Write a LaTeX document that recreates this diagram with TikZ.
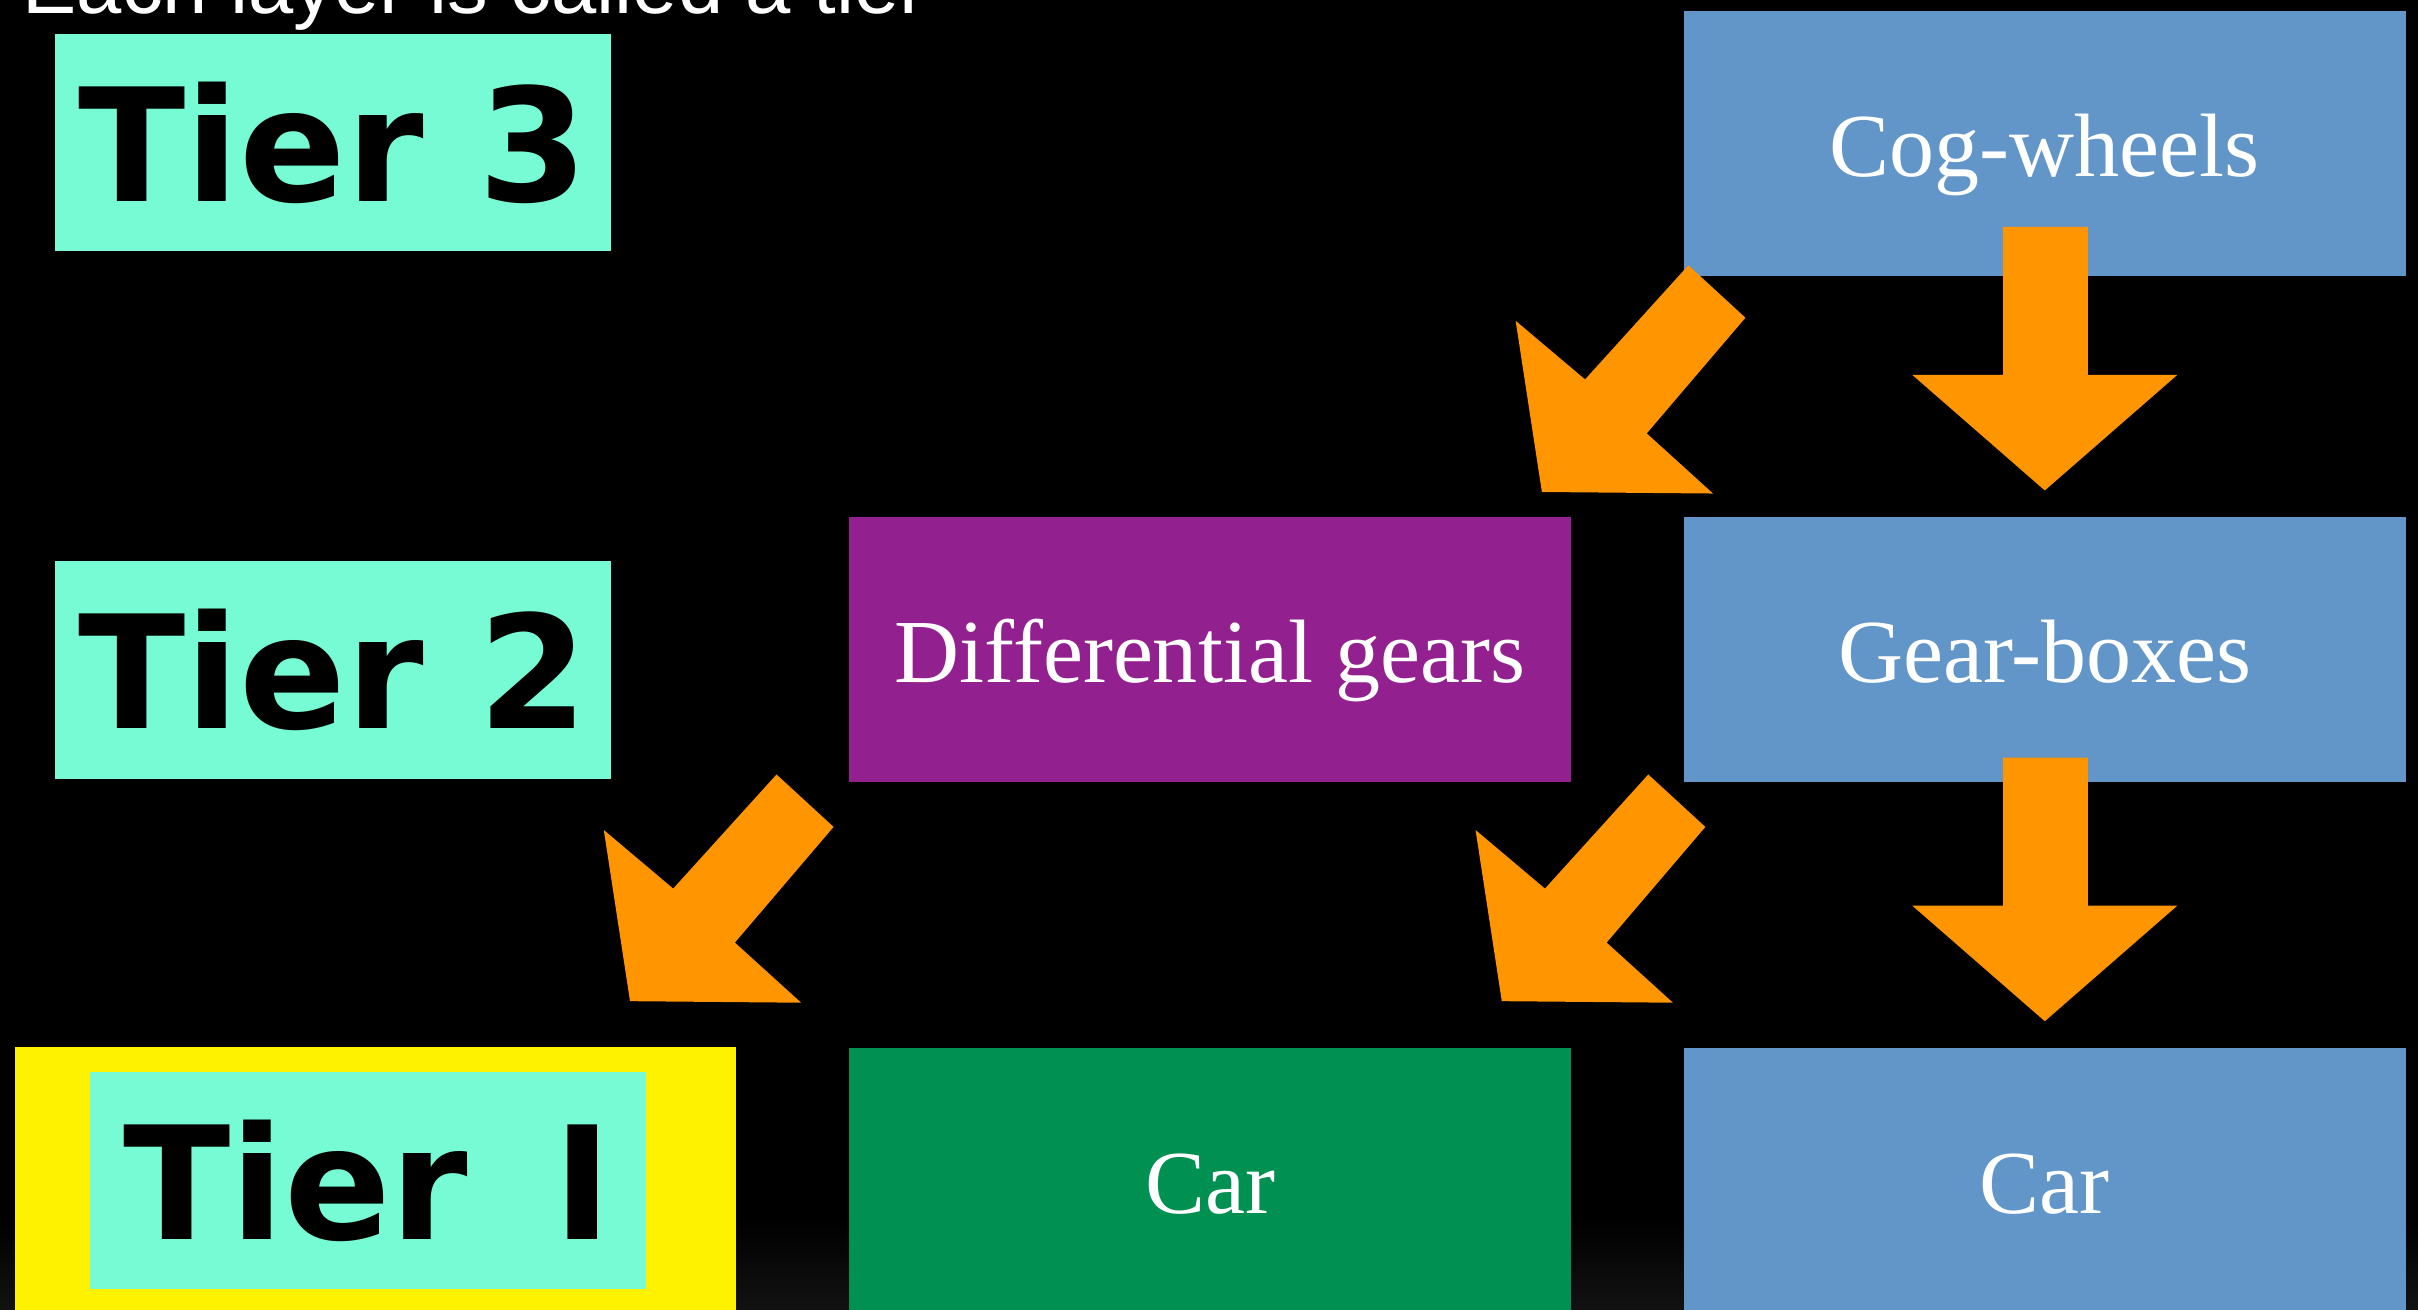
\documentclass[tikz,border=0pt]{standalone}
\usepackage{fontspec}
\setmainfont{Liberation Serif}
\newfontfamily\tierfont{DejaVu Sans}
\newfontfamily\headfont{Liberation Sans}
\usetikzlibrary{calc,positioning}
\definecolor{tiercyan}{HTML}{76FBD5}
\definecolor{partblue}{HTML}{6296C8}
\definecolor{partpurple}{HTML}{93208F}
\definecolor{partgreen}{HTML}{009051}
\definecolor{arroworange}{HTML}{FF9500}
\tikzset{
  drop arrow/.pic={\fill[arroworange] (-27,0) -- (28,0) -- (28,96) -- (86,96) -- (0,171) -- (-86,96) -- (-27,96) -- cycle;},
  slant arrow/.pic={\fill[arroworange] (0,0) -- (37,34) -- (-27,109) -- (16,148) -- (-95,147) -- (-112,36) -- (-67,74) -- cycle;}
}

\begin{document}
\begin{tikzpicture}[x=0.01cm,y=-0.01cm]
  \tikzstyle{part}=[rectangle,inner sep=0pt,outer sep=0pt,minimum width=4.68cm,minimum height=1.72cm,
                    text height=14.6pt,text depth=2.4pt,
                    text=white,font=\fontsize{16.6}{20}\selectfont]
  \tikzstyle{tier}=[rectangle,fill=tiercyan,inner sep=0pt,minimum width=3.6cm,minimum height=1.41cm,
                    text=black,font=\tierfont\bfseries\fontsize{29}{34}\selectfont]

  \fill[black] (0,0) rectangle (1568,849);
  \useasboundingbox (0,0) rectangle (1568,849);
  \shade[top color=black,bottom color=black!93!white] (0,790) rectangle (1568,849);

  \node[anchor=base west,text=white,font=\headfont\fontsize{15}{18}\selectfont,inner sep=0pt]
    (head) at (14,9) {Each layer is called a tier};

  \node[tier] (t3) at (216,92.5) {Tier 3};
  \node[tier] (t2) at (216,434.5) {Tier 2};
  \node[rectangle,fill=yellow,minimum width=4.67cm,minimum height=1.8cm] (t1box) at (243.5,769) {};
  \node[tier] (t1) at (238.5,765.5) {Tier\hspace{0.2cm} I};

  \node[part,fill=partblue] (cog) at (1326,93) {Cog-wheels};
  \node[part,fill=partblue] (gear) [below=1.56cm of cog] {Gear-boxes};
  \node[part,fill=partpurple] (diff) [left=0.73cm of gear] {Differential gears};
  \node[part,fill=partblue] (car2) [below=1.72cm of gear] {Car};
  \node[part,fill=partgreen] (car1) [left=0.73cm of car2] {Car};

  \pic at ($(cog.south)+(0,-32)$) {drop arrow};
  \pic at ($(gear.south)+(0,-16)$) {drop arrow};
  \pic at ($(cog.south west)+(3,-7)$) {slant arrow};
  \pic at ($(gear.south west)+(-23,-5)$) {slant arrow};
  \pic at ($(diff.south west)+(-47,-5)$) {slant arrow};
\end{tikzpicture}
\end{document}
